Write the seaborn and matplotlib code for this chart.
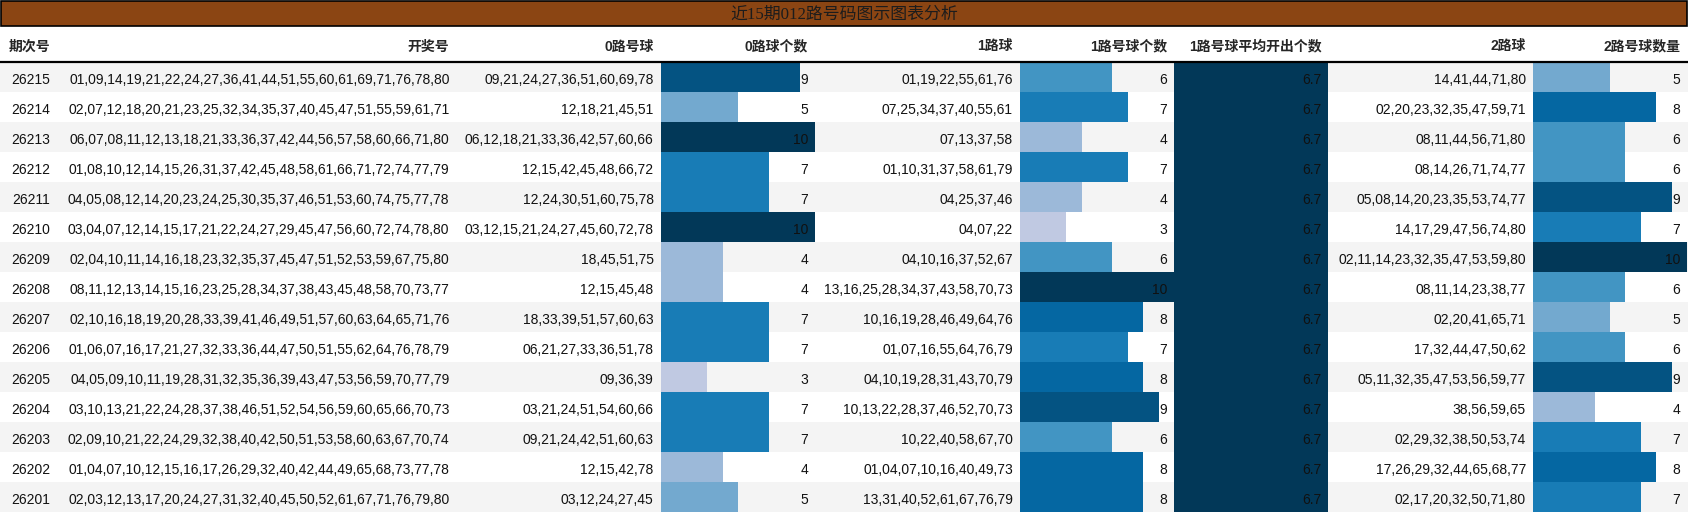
import matplotlib
matplotlib.use("Agg")
import matplotlib.pyplot as plt
from matplotlib.patches import Rectangle
import seaborn as sns

# ---- data ----
periods = ["26215", "26214", "26213", "26212", "26211", "26210", "26209", "26208",
           "26207", "26206", "26205", "26204", "26203", "26202", "26201"]
draws = [
    "01,09,14,19,21,22,24,27,36,41,44,51,55,60,61,69,71,76,78,80",
    "02,07,12,18,20,21,23,25,32,34,35,37,40,45,47,51,55,59,61,71",
    "06,07,08,11,12,13,18,21,33,36,37,42,44,56,57,58,60,66,71,80",
    "01,08,10,12,14,15,26,31,37,42,45,48,58,61,66,71,72,74,77,79",
    "04,05,08,12,14,20,23,24,25,30,35,37,46,51,53,60,74,75,77,78",
    "03,04,07,12,14,15,17,21,22,24,27,29,45,47,56,60,72,74,78,80",
    "02,04,10,11,14,16,18,23,32,35,37,45,47,51,52,53,59,67,75,80",
    "08,11,12,13,14,15,16,23,25,28,34,37,38,43,45,48,58,70,73,77",
    "02,10,16,18,19,20,28,33,39,41,46,49,51,57,60,63,64,65,71,76",
    "01,06,07,16,17,21,27,32,33,36,44,47,50,51,55,62,64,76,78,79",
    "04,05,09,10,11,19,28,31,32,35,36,39,43,47,53,56,59,70,77,79",
    "03,10,13,21,22,24,28,37,38,46,51,52,54,56,59,60,65,66,70,73",
    "02,09,10,21,22,24,29,32,38,40,42,50,51,53,58,60,63,67,70,74",
    "01,04,07,10,12,15,16,17,26,29,32,40,42,44,49,65,68,73,77,78",
    "02,03,12,13,17,20,24,27,31,32,40,45,50,52,61,67,71,76,79,80",
]
road0_balls = ["09,21,24,27,36,51,60,69,78", "12,18,21,45,51", "06,12,18,21,33,36,42,57,60,66",
               "12,15,42,45,48,66,72", "12,24,30,51,60,75,78", "03,12,15,21,24,27,45,60,72,78",
               "18,45,51,75", "12,15,45,48", "18,33,39,51,57,60,63", "06,21,27,33,36,51,78",
               "09,36,39", "03,21,24,51,54,60,66", "09,21,24,42,51,60,63", "12,15,42,78",
               "03,12,24,27,45"]
road0_count = [9, 5, 10, 7, 7, 10, 4, 4, 7, 7, 3, 7, 7, 4, 5]
road1_balls = ["01,19,22,55,61,76", "07,25,34,37,40,55,61", "07,13,37,58", "01,10,31,37,58,61,79",
               "04,25,37,46", "04,07,22", "04,10,16,37,52,67", "13,16,25,28,34,37,43,58,70,73",
               "10,16,19,28,46,49,64,76", "01,07,16,55,64,76,79", "04,10,19,28,31,43,70,79",
               "10,13,22,28,37,46,52,70,73", "10,22,40,58,67,70", "01,04,07,10,16,40,49,73",
               "13,31,40,52,61,67,76,79"]
road1_count = [6, 7, 4, 7, 4, 3, 6, 10, 8, 7, 8, 9, 6, 8, 8]
road1_avg = [6.7, 6.7, 6.7, 6.7, 6.7, 6.7, 6.7, 6.7, 6.7, 6.7, 6.7, 6.7, 6.7, 6.7, 6.7]
road2_balls = ["14,41,44,71,80", "02,20,23,32,35,47,59,71", "08,11,44,56,71,80", "08,14,26,71,74,77",
               "05,08,14,20,23,35,53,74,77", "14,17,29,47,56,74,80", "02,11,14,23,32,35,47,53,59,80",
               "08,11,14,23,38,77", "02,20,41,65,71", "17,32,44,47,50,62", "05,11,32,35,47,53,56,59,77",
               "38,56,59,65", "02,29,32,38,50,53,74", "17,26,29,32,44,65,68,77", "02,17,20,32,50,71,80"]
road2_count = [5, 8, 6, 6, 9, 7, 10, 6, 5, 6, 9, 4, 7, 8, 7]

title = "近15期012路号码图示图表分析"
headers = ["期次号", "开奖号", "0路号球", "0路球个数", "1路球", "1路号球个数",
           "1路号球平均开出个数", "2路球", "2路号球数量"]

# ---- layout (pixels) ----
W, H = 1688, 514
TITLE_H, HEAD_B, ROW_H = 26, 62, 30
n = len(periods)

col_right = [50, 449.5, 653.5, 808, 1013, 1167, 1321.5, 1526, 1680]
bar_cols = [(661, 815, road0_count), (1020, 1174, road1_count),
            (1174, 1328, road1_avg), (1533, 1687, road2_count)]

body_font = ["Liberation Sans", "Noto Sans CJK SC"]
sns.set_style("white")
plt.rcParams["font.family"] = body_font


def px_box(x0, y0, x1, y1):
    return [x0 / W, 1 - y1 / H, (x1 - x0) / W, (y1 - y0) / H]


fig = plt.figure(figsize=(W / 100, H / 100), dpi=100)

# title bar
fig.patches.append(Rectangle((0.0008, 1 - TITLE_H / H), 0.9984, (TITLE_H - 1) / H,
                             transform=fig.transFigure, facecolor="#8B4513",
                             edgecolor="black", linewidth=1.2))
fig.text(0.5, 1 - 14.5 / H, title, ha="center", va="center", fontsize=12.2,
         color="#1c1c1c", family=["Liberation Serif", "Noto Sans CJK SC"])

# striped background
bg = fig.add_axes(px_box(0, HEAD_B, W, HEAD_B + n * ROW_H))
bg.set_xlim(0, W)
bg.set_ylim(n - 0.5, -0.5)
for i in range(n):
    if i % 2 == 0:
        bg.axhspan(i - 0.5, i + 0.5, color="#f4f4f4", linewidth=0)
bg.axis("off")

# data bars
for x0, x1, vals in bar_cols:
    bax = fig.add_axes(px_box(x0, HEAD_B, x1, HEAD_B + n * ROW_H))
    vmax = max(vals)
    sns.barplot(x=vals, y=periods, hue=vals, palette="PuBu", hue_norm=(0, vmax),
                orient="h", width=1.0, saturation=1, dodge=False, legend=False,
                linewidth=0, ax=bax)
    bax.set_xlim(0, vmax)
    bax.set_ylim(n - 0.5, -0.5)
    bax.patch.set_alpha(0)
    bax.axis("off")

# text layer: header + cells
top = -0.5 - (HEAD_B - TITLE_H) / ROW_H
tx = fig.add_axes(px_box(0, TITLE_H, W, HEAD_B + n * ROW_H))
tx.set_xlim(0, W)
tx.set_ylim(n - 0.5, top)
tx.patch.set_alpha(0)
tx.axis("off")

head_y = -0.5 - (HEAD_B - 46.5) / ROW_H
for j, h in enumerate(headers):
    if j == 0:
        tx.text(8.7, head_y, h, ha="left", va="center", fontsize=10, fontweight="bold")
    else:
        tx.text(col_right[j], head_y, h, ha="right", va="center", fontsize=10,
                fontweight="bold")
tx.axhline(-0.5, color="black", linewidth=1.6)

columns = [periods, draws, road0_balls, road0_count, road1_balls, road1_count,
           road1_avg, road2_balls, road2_count]
for j, col in enumerate(columns):
    for i, v in enumerate(col):
        tx.text(col_right[j], i + 0.23, str(v), ha="right", va="baseline",
                fontsize=10, color="#111111")

fig.savefig("out.png", dpi=100)
